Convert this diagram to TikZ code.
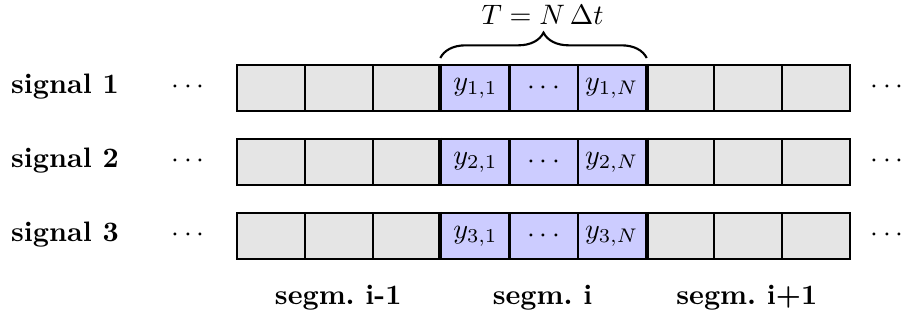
\documentclass[tikz,border=0pt]{standalone}
\usetikzlibrary{decorations.pathreplacing,calc}
\begin{document}
\begin{tikzpicture}[x=0.3553pt,y=-0.3553pt,
  cell/.style={draw, line width=0.75pt, fill=black!10, anchor=north west,
    inner sep=0pt, minimum width=24.2pt, minimum height=16.3pt},
  segcell/.style={cell, fill=blue!20},
  lbl/.style={font=\bfseries},
  segedge/.style={line width=1.4pt}]
\useasboundingbox (0,0) rectangle (904,323);

% three signal rows of nine samples each
\foreach \r/\top in {1/64,2/138,3/212}{
  \foreach \k in {0,1,2,6,7,8}{
    \node[cell] (c\r-\k) at ({236+68.1*\k},\top) {};
  }
  \node[segcell] (c\r-3) at ({236+68.1*3},\top) {$y_{\r,1}$};
  \node[segcell] (c\r-4) at ({236+68.1*4},\top) {$\cdots$};
  \node[segcell] (c\r-5) at ({236+68.1*5},\top) {$y_{\r,N}$};
  \draw[segedge] (c\r-3.north west) -- (c\r-3.south west);
  \draw[segedge] (c\r-5.north east) -- (c\r-5.south east);
  \node[lbl] (sig\r) at (65,\top+23) {signal \r};
  \node (ldots\r) at (188,\top+23) {$\cdots$};
  \node (rdots\r) at (887,\top+23) {$\cdots$};
}

% segment names
\node[lbl] (s1) at (338.2,298) {segm.\ i-1};
\node[lbl] (s2) at (542.5,298) {segm.\ i};
\node[lbl] (s3) at (746.8,298) {segm.\ i+1};

% brace over segment i
\coordinate (bl) at ($(c1-3.north west)+(0,-6)$);
\coordinate (br) at ($(c1-5.north east)+(0,-6)$);
\draw[line width=0.75pt, decorate, decoration={brace, amplitude=9pt}] (bl) -- (br);
\node (T) at (542.5,15) {$T = N\,\Delta t$};
\end{tikzpicture}
\end{document}
